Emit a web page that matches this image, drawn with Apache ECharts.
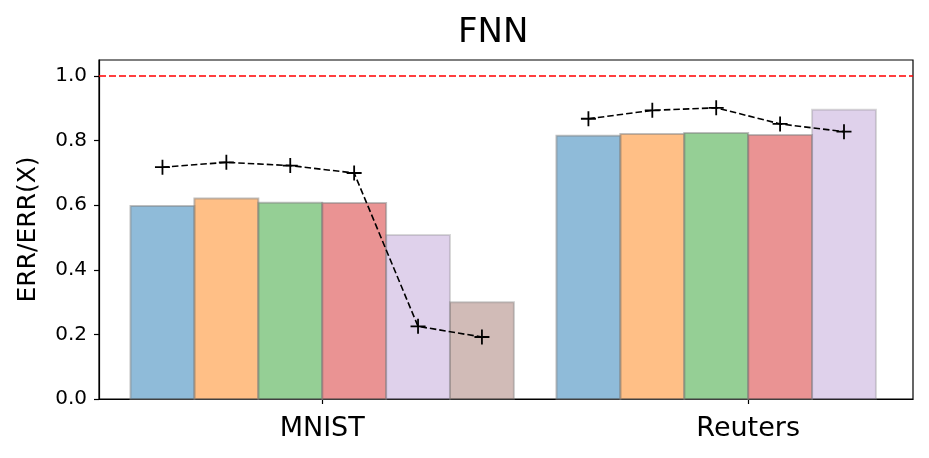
<!DOCTYPE html>
<html>
<head>
<meta charset="utf-8">
<script src="https://cdn.jsdelivr.net/npm/echarts@6/dist/echarts.min.js"></script>
<style>html,body{margin:0;padding:0;background:#fff;}#chart{width:929px;height:458px;}</style>
</head>
<body>
<div id="chart"></div>
<script>
// ---- data ----
const groups = ['MNIST', 'Reuters'];
const barA = [0.598, 0.815];
const barB = [0.621, 0.821];
const barC = [0.608, 0.824];
const barD = [0.607, 0.818];
const barE = [0.508, 0.896];
const barF = [0.300, null];
const lineMNIST = [0.718, 0.733, 0.723, 0.700, 0.225, 0.192];
const lineReuters = [0.868, 0.894, 0.902, 0.852, 0.828];
const yTicks = [0.0, 0.2, 0.4, 0.6, 0.8, 1.0];
const refLevel = 1.0;
const titleText = 'FNN';
const yName = 'ERR/ERR(X)';

// ---- layout / style ----
const BAR_W = 0.15;
const OFFSETS = [-0.375, -0.225, -0.075, 0.075, 0.225, 0.375];
const barSets = [barA, barB, barC, barD, barE, barF];
const fills = ['rgba(31,119,180,0.5)', 'rgba(255,127,14,0.5)', 'rgba(44,160,44,0.5)',
               'rgba(214,39,40,0.5)', 'rgba(148,103,189,0.3)', 'rgba(140,86,75,0.4)'];
const strokes = ['rgba(128,128,128,0.5)', 'rgba(128,128,128,0.5)', 'rgba(128,128,128,0.5)',
                 'rgba(128,128,128,0.5)', 'rgba(128,128,128,0.3)', 'rgba(128,128,128,0.4)'];
const FONT = 'DejaVu Sans';
const PLUS = 'path://M-0.12,-1H0.12V-0.12H1V0.12H0.12V1H-0.12V0.12H-1V-0.12H-0.12Z';

const chart = echarts.init(document.getElementById('chart'), null, {renderer: 'canvas'});

const barSeries = barSets.map((vals, i) => ({
  type: 'custom',
  name: 's' + i,
  z: 2,
  data: vals.map((v, gi) => v == null ? null : [gi + OFFSETS[i], v]).filter(d => d),
  renderItem: function (params, api) {
    const x = api.value(0), y = api.value(1);
    const p0 = api.coord([x - BAR_W / 2, y]);
    const p1 = api.coord([x + BAR_W / 2, 0]);
    return {
      type: 'rect',
      shape: {x: p0[0], y: p0[1], width: p1[0] - p0[0], height: p1[1] - p0[1]},
      style: {fill: fills[i], stroke: strokes[i], lineWidth: 2}
    };
  }
}));

const lineStyleCommon = {
  type: 'line',
  z: 5,
  symbol: PLUS,
  symbolSize: 15,
  itemStyle: {color: '#000'},
  lineStyle: {color: '#000', width: 1.6, type: [6.5, 3]},
  silent: true
};

const option = {
  animation: false,
  backgroundColor: '#fff',
  title: {
    text: titleText,
    left: 453,
    top: 11,
    textStyle: {fontFamily: FONT, fontSize: 34, fontWeight: 'normal', color: '#000'}
  },
  grid: {left: 99, right: 16, top: 60, bottom: 59, show: true, borderColor: '#000', borderWidth: 1.2},
  xAxis: {
    type: 'value',
    min: -0.524,
    max: 1.387,
    splitLine: {show: false},
    axisLine: {show: true, onZero: false, lineStyle: {color: '#000', width: 1.2}},
    axisTick: {show: true, length: 5, inside: false, customValues: [0, 1], lineStyle: {color: '#000', width: 1.2}},
    axisLabel: {
      customValues: [0, 1],
      formatter: v => groups[Math.round(v)] || '',
      fontFamily: FONT, fontSize: 27, color: '#000', margin: 16
    }
  },
  yAxis: {
    type: 'value',
    min: 0,
    max: 1.05,
    name: yName,
    nameLocation: 'middle',
    nameGap: 58,
    nameTextStyle: {fontFamily: FONT, fontSize: 25, color: '#000'},
    splitLine: {show: false},
    axisLine: {show: true, onZero: false, lineStyle: {color: '#000', width: 1.2}},
    axisTick: {show: true, length: 5, customValues: yTicks, lineStyle: {color: '#000', width: 1.2}},
    axisLabel: {
      customValues: yTicks,
      formatter: v => v.toFixed(1),
      fontFamily: FONT, fontSize: 20, color: '#000', margin: 12
    }
  },
  series: barSeries.concat([
    Object.assign({}, lineStyleCommon, {
      name: 'lineMNIST',
      data: lineMNIST.map((v, i) => [0 + OFFSETS[i], v]),
      markLine: {
        silent: true,
        symbol: ['none', 'none'],
        label: {show: false},
        lineStyle: {color: '#ff0000', width: 1.5, type: [7, 3]},
        data: [{yAxis: refLevel}]
      }
    }),
    Object.assign({}, lineStyleCommon, {
      name: 'lineReuters',
      data: lineReuters.map((v, i) => [1 + OFFSETS[i], v])
    })
  ])
};
chart.setOption(option);
</script>
</body>
</html>
